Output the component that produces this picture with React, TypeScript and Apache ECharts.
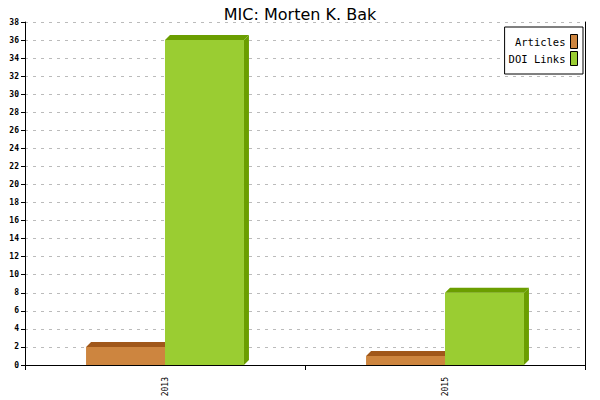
import { useEffect, useRef } from "react";
import * as echarts from "echarts";

// values
const years = ["2013", "2015"];
const articles = [2, 1];
const doiLinks = [36, 8];
const yTicks = { min: 0, max: 38, interval: 2 };

const FRONT = ["#CD853F", "#9ACD32"];
const DARK = ["#A0571A", "#6B9E00"];
const DEPTH = 5;

function bar3d(seriesIdx: number) {
  return (params: any, api: any) => {
    const cat = api.value(0);
    const val = api.value(1);
    const top = api.coord([cat, val]);
    const base = api.coord([cat, 0]);
    const band = api.size([1, 0])[0];
    const w = band * 0.282;
    const x = seriesIdx === 0 ? top[0] - w : top[0];
    const y = top[1];
    const b = base[1];
    const d = DEPTH;
    return {
      type: "group",
      children: [
        {
          type: "rect",
          shape: { x, y, width: w, height: b - y },
          style: { fill: FRONT[seriesIdx] },
        },
        {
          type: "polygon",
          shape: {
            points: [
              [x, y],
              [x + d, y - d],
              [x + w + d, y - d],
              [x + w, y],
            ],
          },
          style: { fill: DARK[seriesIdx] },
        },
        {
          type: "polygon",
          shape: {
            points: [
              [x + w, y],
              [x + w + d, y - d],
              [x + w + d, b - d],
              [x + w, b],
            ],
          },
          style: { fill: DARK[seriesIdx] },
        },
      ],
    };
  };
}

export default function App() {
  const ref = useRef<HTMLDivElement>(null);

  useEffect(() => {
    document.body.style.margin = "0";
    if (!ref.current) return;
    const chart = echarts.init(ref.current, null, { renderer: "svg" });
    const mono = "DejaVu Sans Mono";
    chart.setOption({
      animation: false,
      backgroundColor: "#fff",
      title: {
        text: "MIC: Morten K. Bak",
        left: "center",
        top: 1,
        textStyle: {
          fontFamily: "DejaVu Sans",
          fontSize: 16,
          fontWeight: "normal",
          color: "#000",
        },
      },
      legend: {
        right: 17,
        top: 27,
        orient: "vertical",
        align: "right",
        icon: "rect",
        itemWidth: 7,
        itemHeight: 14,
        itemGap: 2,
        padding: [7, 5, 8, 4],
        borderColor: "#000",
        borderWidth: 1,
        backgroundColor: "#fff",
        textStyle: { fontFamily: mono, fontSize: 10.5, color: "#000" },
        data: [
          { name: "Articles", itemStyle: { color: FRONT[0], borderColor: "#000", borderWidth: 1 } },
          { name: "DOI Links", itemStyle: { color: FRONT[1], borderColor: "#000", borderWidth: 1 } },
        ],
      },
      grid: { left: 25, right: 15, top: 22, bottom: 35 },
      xAxis: {
        type: "category",
        data: years,
        boundaryGap: true,
        axisLine: { lineStyle: { color: "#000", width: 1 } },
        axisTick: { show: true, length: 5, lineStyle: { color: "#000" } },
        axisLabel: {
          rotate: 90,
          margin: 12,
          fontFamily: mono,
          fontSize: 8,
          color: "#000",
        },
        splitLine: { show: false },
      },
      yAxis: [
        {
          type: "value",
          ...yTicks,
          axisLine: { show: true, lineStyle: { color: "#000", width: 1 } },
          axisTick: { show: true, length: 4, lineStyle: { color: "#000" } },
          axisLabel: {
            margin: 6,
            fontFamily: mono,
            fontSize: 8,
            fontWeight: "bold",
            color: "#000",
          },
          splitLine: {
            show: true,
            lineStyle: { type: [3, 5], color: "#bbb", width: 1 },
          },
        },
        {
          type: "value",
          position: "right",
          ...yTicks,
          axisLine: { show: true, lineStyle: { color: "#000", width: 1 } },
          axisTick: { show: false },
          axisLabel: { show: false },
          splitLine: { show: false },
        },
      ],
      series: [
        {
          name: "Articles",
          type: "custom",
          renderItem: bar3d(0),
          itemStyle: { color: FRONT[0] },
          encode: { x: 0, y: 1 },
          data: articles.map((v, i) => [i, v]),
        },
        {
          name: "DOI Links",
          type: "custom",
          renderItem: bar3d(1),
          itemStyle: { color: FRONT[1] },
          encode: { x: 0, y: 1 },
          data: doiLinks.map((v, i) => [i, v]),
        },
      ],
    });
    return () => chart.dispose();
  }, []);

  return <div ref={ref} style={{ width: 600, height: 400 }} />;
}
